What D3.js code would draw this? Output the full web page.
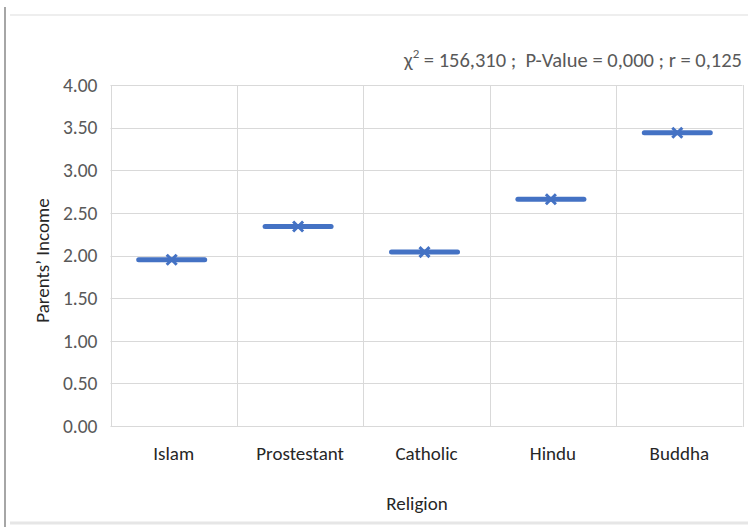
<!DOCTYPE html>
<html>
<head>
<meta charset="utf-8">
<script src="https://cdn.jsdelivr.net/npm/d3@7"></script>
<style>
  html, body { margin: 0; padding: 0; background: #fff; }
  svg { display: block; }
</style>
</head>
<body>
<svg id="chart" width="748" height="527"></svg>
<script>
// Mean parents' income by religion
const categories = ["Islam", "Prostestant", "Catholic", "Hindu", "Buddha"];
const meanIncome = [1.95, 2.34, 2.04, 2.66, 3.44];
const yTicks = [0, 0.5, 1, 1.5, 2, 2.5, 3, 3.5, 4];
const statsNote = { chi: "156,310", p: "0,000", r: "0,125" };

const svg = d3.select("#chart");
const W = 748, H = 527;
const plot = { left: 110.5, right: 742.5, top: 85, bottom: 426 };
const font = "Carlito, Lato, 'Open Sans', sans-serif";

// outer frame
svg.append("line").attr("x1", 5).attr("x2", 5).attr("y1", 7).attr("y2", H)
  .attr("stroke", "#a6a6a6").attr("stroke-width", 2);
svg.append("line").attr("x1", 10).attr("x2", W).attr("y1", 15).attr("y2", 15)
  .attr("stroke", "#eeeeee").attr("stroke-width", 2);
svg.append("line").attr("x1", 10).attr("x2", W).attr("y1", 523).attr("y2", 523)
  .attr("stroke", "#e6e6e6").attr("stroke-width", 3);

const x = d3.scaleBand().domain(categories).range([plot.left, plot.right]).padding(0);
const y = d3.scaleLinear().domain([0, 4]).range([plot.bottom, plot.top]);

// horizontal gridlines
svg.append("g").selectAll("line").data(yTicks).join("line")
  .attr("x1", plot.left).attr("x2", plot.right)
  .attr("y1", d => Math.round(y(d)) + 0.5).attr("y2", d => Math.round(y(d)) + 0.5)
  .attr("stroke", "#d9d9d9").attr("stroke-width", 1);

// vertical category dividers
const edges = categories.map(c => x(c)).concat([plot.right]);
svg.append("g").selectAll("line").data(edges).join("line")
  .attr("x1", d => Math.round(d) + 0.5).attr("x2", d => Math.round(d) + 0.5)
  .attr("y1", plot.top).attr("y2", plot.bottom + 1)
  .attr("stroke", "#d9d9d9").attr("stroke-width", 1);

// y axis labels
const yAxis = d3.axisLeft(y).tickValues(yTicks).tickFormat(d3.format(".2f")).tickSize(0).tickPadding(13);
const gy = svg.append("g").attr("transform", `translate(${plot.left},0)`).call(yAxis);
gy.select(".domain").remove();
gy.selectAll("text").attr("fill", "#595959").style("font-family", font).style("font-size", "19.5px");

// x axis labels
const xAxis = d3.axisBottom(x).tickSize(0).tickPadding(21);
const gx = svg.append("g").attr("transform", `translate(0,${plot.bottom})`).call(xAxis);
gx.select(".domain").remove();
gx.selectAll("text").attr("fill", "#262626").style("font-family", font).style("font-size", "19px");

// mean markers: horizontal bar with an x
const barHalf = 33;
const marks = svg.append("g");
categories.forEach((c, i) => {
  const cx = x(c) + x.bandwidth() / 2 - 2;
  const cy = y(meanIncome[i]);
  marks.append("line")
    .attr("x1", cx - barHalf).attr("x2", cx + barHalf)
    .attr("y1", cy).attr("y2", cy)
    .attr("stroke", "#4472c4").attr("stroke-width", 5).attr("stroke-linecap", "round");
  const s = 5;
  marks.append("path")
    .attr("d", `M${cx - s},${cy - s}L${cx + s},${cy + s}M${cx - s},${cy + s}L${cx + s},${cy - s}`)
    .attr("stroke", "#4472c4").attr("stroke-width", 3).attr("fill", "none");
});

// axis titles
svg.append("text")
  .attr("transform", `translate(49,${(plot.top + plot.bottom) / 2 + 5}) rotate(-90)`)
  .attr("text-anchor", "middle").attr("fill", "#262626")
  .style("font-family", font).style("font-size", "19px")
  .text("Parents\u2019 Income");
svg.append("text")
  .attr("x", 417).attr("y", 510).attr("text-anchor", "middle").attr("fill", "#262626")
  .style("font-family", font).style("font-size", "19px")
  .text("Religion");

// statistics note
const note = svg.append("text")
  .attr("x", 742).attr("y", 67).attr("text-anchor", "end").attr("fill", "#595959")
  .attr("xml:space", "preserve")
  .style("font-family", font).style("font-size", "20.5px").style("white-space", "pre");
note.append("tspan").text("\u03c7");
note.append("tspan").attr("dy", -9).style("font-size", "13px").text("2");
note.append("tspan").attr("dy", 9).text(` = ${statsNote.chi} ;  P-Value = ${statsNote.p} ; r = ${statsNote.r}`);
</script>
</body>
</html>
